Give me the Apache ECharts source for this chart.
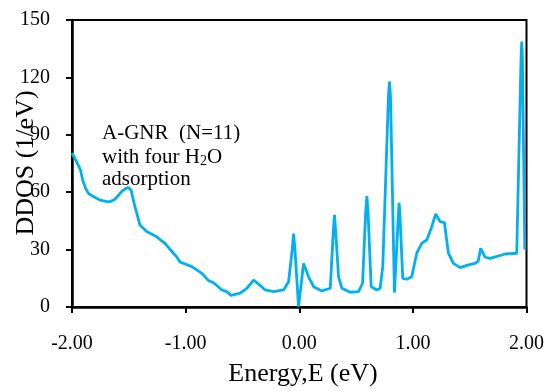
<!DOCTYPE html>
<html>
<head>
<meta charset="utf-8">
<script src="https://cdn.jsdelivr.net/npm/echarts@6/dist/echarts.min.js"></script>
<style>html,body{margin:0;padding:0;background:#fff;}#c{width:547px;height:391px;}</style>
</head>
<body>
<div id="c"></div>
<script>
var energy = [-2.00,-1.96,-1.925,-1.906,-1.88,-1.856,-1.812,-1.754,-1.70,-1.666,-1.622,-1.563,-1.525,-1.504,-1.481,-1.446,-1.402,-1.343,-1.255,-1.182,-1.108,-1.079,-1.050,-1.035,-0.945,-0.857,-0.798,-0.754,-0.681,-0.637,-0.601,-0.519,-0.461,-0.402,-0.358,-0.299,-0.226,-0.138,-0.094,-0.062,-0.05,-0.038,-0.006,0.038,0.082,0.126,0.199,0.273,0.300,0.310,0.320,0.346,0.375,0.449,0.522,0.557,0.585,0.595,0.605,0.633,0.683,0.712,0.735,0.785,0.794,0.803,0.838,0.872,0.879,0.886,0.911,0.946,0.990,1.034,1.078,1.122,1.166,1.201,1.240,1.278,1.295,1.313,1.357,1.416,1.489,1.548,1.575,1.597,1.636,1.680,1.812,1.914,1.93,1.952,1.958,1.964,1.985];
var ddos = [80.5,76,71.6,66.4,62,59.4,57.7,55.9,55.2,55.0,56.3,60.3,62.0,62.4,61.2,52.4,42.9,39.4,36.7,33.3,28.1,26.3,23.5,22.8,21.1,17.6,13.8,12.7,8.9,8.0,6.1,7.2,9.8,14.1,12.0,8.9,8.0,8.9,13.2,30,38.3,30,0.2,22.8,15.8,10.6,8.4,9.8,40,48.1,40,15.8,9.8,7.7,8.0,12.4,50,58.0,50,10.6,8.9,9.8,21.1,110,117.8,110,7.5,48,54.5,48,15.0,14.5,15.8,28.1,33.3,35.0,42.0,48.6,44.6,44.1,36,28.1,22.8,20.6,22.0,22.8,24.0,30.7,26.0,25.4,27.7,28.1,28.3,130,138.7,130,30];
var xTicks = [-2, -1, 0, 1, 2];
var yTicks = [0, 30, 60, 90, 120, 150];
var yName = 'DDOS (1/eV)';
var xName = 'Energy,E (eV)';
var note1 = 'A-GNR  (N=11)';
var note2 = ['with four H', '2', 'O'];
var note3 = 'adsorption';

var pts = energy.map(function (e, i) { return [e, ddos[i]]; });
var font = '"Liberation Serif","Times New Roman",serif';
var chart = echarts.init(document.getElementById('c'), null, {renderer: 'canvas'});
chart.setOption({
  animation: false,
  backgroundColor: '#fff',
  grid: {left: 72, right: 20, top: 20, bottom: 84, show: true, borderColor: '#000', borderWidth: 2, backgroundColor: 'transparent'},
  xAxis: {
    type: 'value', min: xTicks[0], max: xTicks[xTicks.length - 1], interval: 1,
    axisLine: {show: true, onZero: false, lineStyle: {color: '#000', width: 2.5}},
    axisTick: {show: true, length: 6, lineStyle: {color: '#000', width: 2}},
    axisLabel: {margin: 27, color: '#000', fontFamily: font, fontSize: 20, formatter: function (v) { return v.toFixed(2); }},
    splitLine: {show: false}
  },
  yAxis: {
    type: 'value', min: yTicks[0], max: yTicks[yTicks.length - 1], interval: 30,
    axisLine: {show: true, onZero: false, lineStyle: {color: '#000', width: 2.5}},
    axisTick: {show: true, length: 6, lineStyle: {color: '#000', width: 2}},
    axisLabel: {margin: 22, color: '#000', fontFamily: font, fontSize: 20},
    splitLine: {show: false}
  },
  series: [{
    type: 'line', data: pts, showSymbol: false, smooth: false,
    lineStyle: {color: '#00B0F0', width: 2.8}, clip: false
  }],
  graphic: [
    {type: 'text', x: 26, y: 163, rotation: Math.PI / 2, style: {text: yName, font: '26px ' + font, fill: '#000', textAlign: 'center', textVerticalAlign: 'middle'}},
    {type: 'text', x: 303, y: 374, style: {text: xName, font: '26px ' + font, fill: '#000', textAlign: 'center', textVerticalAlign: 'middle'}},
    {type: 'text', x: 102, y: 133, style: {text: note1, font: '21px ' + font, fill: '#000', textAlign: 'left', textVerticalAlign: 'middle'}},
    {type: 'text', x: 102, y: 156, style: {
      text: '{a|' + note2[0] + '}{b|' + note2[1] + '}{a|' + note2[2] + '}',
      fill: '#000', textAlign: 'left', textVerticalAlign: 'middle',
      rich: {
        a: {fontFamily: font, fontSize: 21, lineHeight: 24, fill: '#000', verticalAlign: 'bottom'},
        b: {fontFamily: font, fontSize: 14, lineHeight: 10, fill: '#000', verticalAlign: 'bottom'}
      }
    }},
    {type: 'text', x: 102, y: 179, style: {text: note3, font: '21px ' + font, fill: '#000', textAlign: 'left', textVerticalAlign: 'middle'}}
  ]
});
</script>
</body>
</html>
